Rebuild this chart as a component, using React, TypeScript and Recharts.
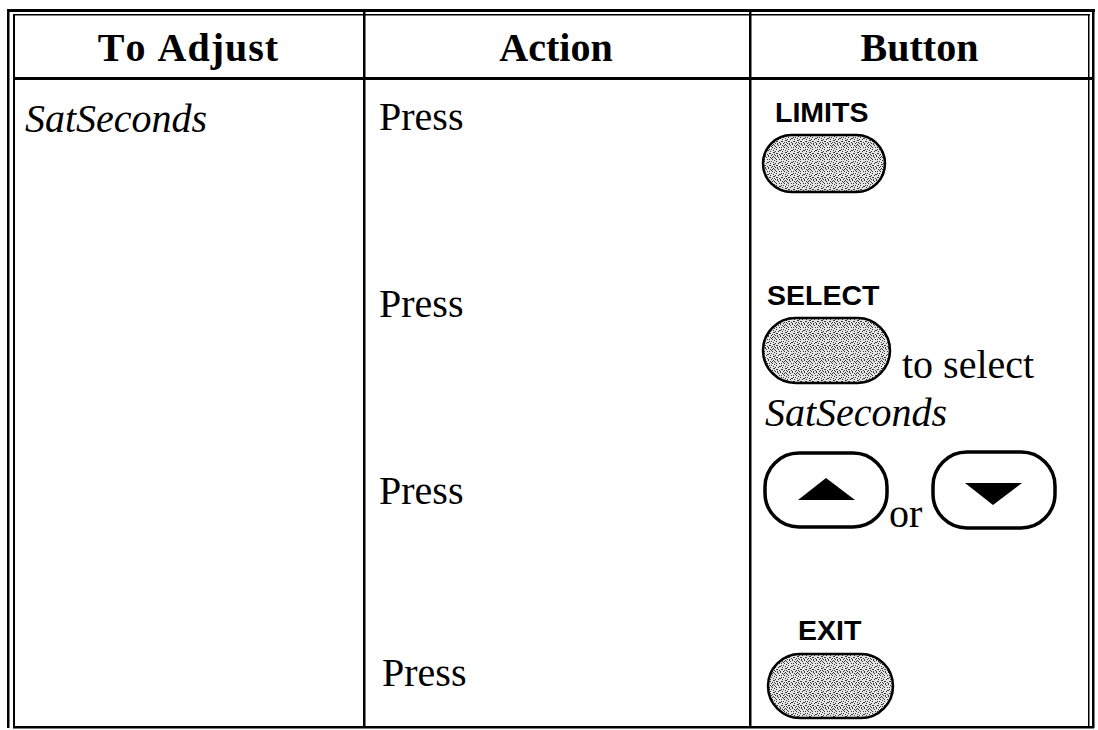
import { Surface, Layer, Rectangle, Polygon, Text } from 'recharts'

// table content
const headers = ['To Adjust', 'Action', 'Button']
const adjustItems = ['SatSeconds']
const actions = ['Press', 'Press', 'Press', 'Press']
const keyLabels = ['LIMITS', 'SELECT', 'EXIT']
const selectNote = ['to select', 'SatSeconds']
const arrowJoin = 'or'

const W = 1098
const H = 730
const SERIF = '"Liberation Serif", "Times New Roman", serif'
const SANS = '"Liberation Sans", Arial, sans-serif'

// layout
const colEdges = [14, 363, 749, 1090]
const headerBase = 61
const actionBase = [130, 317, 504, 686]
const keyText = [
  { x: 775, y: 122 },
  { x: 767, y: 305 },
  { x: 798, y: 640 },
]
const keyPill = [
  { x: 763, y: 135, w: 122, h: 57 },
  { x: 763, y: 318, w: 127, h: 65 },
  { x: 768, y: 654, w: 125, h: 64 },
]
const arrowPill = [
  { x: 765, y: 453, w: 122, h: 74 },
  { x: 933, y: 452, w: 122, h: 76 },
]

// speckled grey of the scanned buttons
const dots = [
  [0, 0], [2, 1], [5, 0], [7, 2], [1, 3], [4, 3], [6, 4], [3, 5], [0, 6], [5, 6], [2, 7], [7, 7],
  [4, 1], [1, 5], [6, 1], [3, 2], [9, 0], [11, 3], [8, 5], [10, 7], [9, 9], [11, 10], [1, 9],
  [4, 10], [6, 8], [3, 11], [7, 11], [0, 11], [10, 1], [8, 3], [2, 9], [5, 8], [8, 9], [11, 6],
  [6, 10], [9, 11],
]

function Line({ x, y, w, h }: { x: number; y: number; w: number; h: number }) {
  return <Rectangle x={x} y={y} width={w} height={h} fill="#000" />
}

export default function App() {
  return (
    <div style={{ position: 'absolute', left: 0, top: 0, width: W, height: H, background: '#fff' }}>
      <Surface width={W} height={H} viewBox={{ x: 0, y: 0, width: W, height: H }}>
        <defs>
          <pattern id="stipple" width={12} height={12} patternUnits="userSpaceOnUse">
            <rect width={12} height={12} fill="#e4e4e4" />
            {dots.map(([dx, dy], i) => (
              <rect key={i} x={dx} y={dy} width={1} height={1} fill="#3a3a3a" />
            ))}
          </pattern>
        </defs>

        {/* frame */}
        <Layer>
          <Line x={7} y={10} w={2.5} h={718} />
          <Line x={13} y={14} w={2} h={714} />
          <Line x={7} y={9} w={1088} h={3} />
          <Line x={13} y={14} w={1077} h={1.5} />
          <Line x={1088} y={14} w={1.5} h={713} />
          <Line x={1092} y={9} w={2.5} h={719} />
          <Line x={13} y={726} w={1081} h={2.5} />
          <Line x={13} y={77} w={1079} h={3} />
          <Line x={colEdges[1]} y={12} w={2.5} h={715} />
          <Line x={colEdges[2]} y={12} w={2.5} h={715} />
        </Layer>

        {/* headers */}
        <Layer>
          {headers.map((h, i) => (
            <Text
              key={h}
              x={(colEdges[i] + colEdges[i + 1]) / 2}
              y={headerBase}
              textAnchor="middle"
              verticalAnchor="end"
              fontFamily={SERIF}
              fontWeight="bold"
              fontSize={40}
              fill="#000"
              style={{ fontKerning: 'none', letterSpacing: i === 0 ? 1 : 0 }}
            >
              {h}
            </Text>
          ))}
        </Layer>

        {/* to adjust column */}
        {adjustItems.map((t) => (
          <Text key={t} x={25} y={132} verticalAnchor="end" fontFamily={SERIF} fontStyle="italic" fontSize={40} fill="#000">
            {t}
          </Text>
        ))}

        {/* action column */}
        {actions.map((a, i) => (
          <Text key={i} x={i === 3 ? 382 : 379} y={actionBase[i]} verticalAnchor="end" fontFamily={SERIF} fontSize={40} fill="#000">
            {a}
          </Text>
        ))}

        {/* button column */}
        <Layer>
          {keyLabels.map((k, i) => (
            <Layer key={k}>
              <Text x={keyText[i].x} y={keyText[i].y} verticalAnchor="end" fontFamily={SANS} fontWeight="bold" fontSize={28.5} fill="#000">
                {k}
              </Text>
              <Rectangle
                x={keyPill[i].x}
                y={keyPill[i].y}
                width={keyPill[i].w}
                height={keyPill[i].h}
                radius={keyPill[i].h / 2}
                fill="url(#stipple)"
                stroke="#000"
                strokeWidth={2.5}
              />
            </Layer>
          ))}

          <Text x={902} y={378} verticalAnchor="end" fontFamily={SERIF} fontSize={40} fill="#000">
            {selectNote[0]}
          </Text>
          <Text x={765} y={426} verticalAnchor="end" fontFamily={SERIF} fontStyle="italic" fontSize={40} fill="#000">
            {selectNote[1]}
          </Text>

          {arrowPill.map((p, i) => (
            <Rectangle key={i} x={p.x} y={p.y} width={p.w} height={p.h} radius={34} fill="#fff" stroke="#000" strokeWidth={3.5} />
          ))}
          <Polygon
            points={[
              { x: 798, y: 500 },
              { x: 826, y: 478 },
              { x: 855, y: 500 },
            ]}
            fill="#000"
          />
          <Polygon
            points={[
              { x: 965, y: 483 },
              { x: 1022, y: 483 },
              { x: 993, y: 505 },
            ]}
            fill="#000"
          />
          <Text x={889} y={527} verticalAnchor="end" fontFamily={SERIF} fontSize={40} fill="#000">
            {arrowJoin}
          </Text>
        </Layer>
      </Surface>
    </div>
  )
}
